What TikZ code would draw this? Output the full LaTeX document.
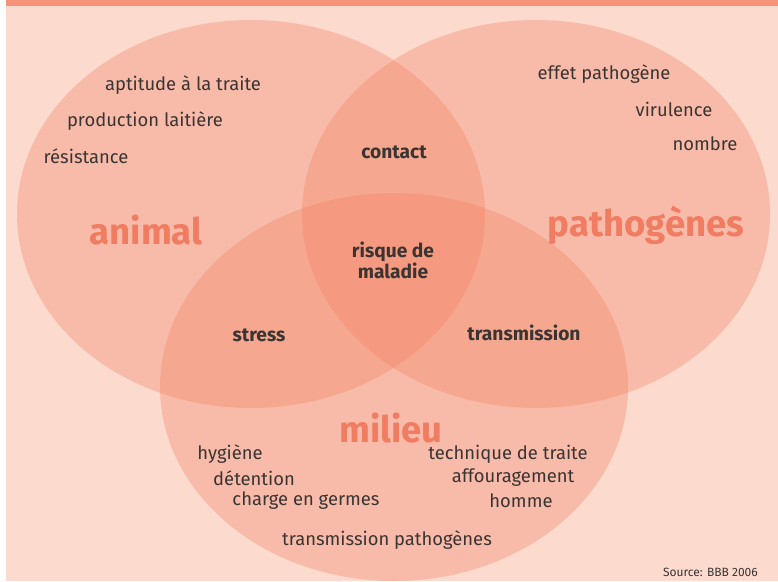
\documentclass[tikz,border=0pt]{standalone}
\usepackage{fontspec}
\setmainfont{Fira Sans}
\definecolor{bgc}{HTML}{FCDACE}
\definecolor{bandc}{HTML}{F5947A}
\definecolor{onec}{HTML}{F9BBA9}
\definecolor{twoc}{HTML}{F6A78F}
\definecolor{threec}{HTML}{F59A80}
\definecolor{bigc}{HTML}{F07C62}
\definecolor{txtc}{HTML}{3A3433}
\tikzset{
  item/.style={font=\fontsize{18.4}{20}\selectfont, text=txtc, inner sep=0pt},
  bolditem/.style={font=\fontsize{19.2}{21}\selectfont\bfseries, text=txtc, inner sep=0pt, align=center},
  biglabel/.style={font=\fontsize{36.5}{38}\selectfont\bfseries, text=bigc, inner sep=0pt},
  srcnote/.style={font=\fontsize{12}{14}\selectfont, text=txtc, inner sep=0pt, anchor=east},
}
\newcommand{\ellA}{(251,214) ellipse [x radius=234pt, y radius=194pt]}
\newcommand{\ellB}{(536,214) ellipse [x radius=234pt, y radius=194pt]}
\newcommand{\ellC}{(394,387) ellipse [x radius=234pt, y radius=194pt]}
\begin{document}
\begin{tikzpicture}[x=1pt,y=-1pt]
\useasboundingbox (0,0) rectangle (778,581);
\fill[white] (0,0) rectangle (778,581);
\fill[bgc] (6,6) rectangle (778,581);
\fill[bandc] (6,0) rectangle (778,6);
% single ellipses
\fill[onec] \ellA;
\fill[onec] \ellB;
\fill[onec] \ellC;
% pairwise overlaps
\begin{scope}
  \clip \ellA;
  \fill[twoc] \ellB;
  \fill[twoc] \ellC;
\end{scope}
\begin{scope}
  \clip \ellB;
  \fill[twoc] \ellC;
\end{scope}
% triple overlap
\begin{scope}
  \clip \ellA;
  \clip \ellB;
  \fill[threec] \ellC;
\end{scope}
% animal
\node[item] (apt) at (183,85) {aptitude à la traite};
\node[item] (prod) at (145,121) {production laitière};
\node[item] (res) at (86,156) {résistance};
\node[biglabel] (animal) at (146,230) {animal};
% pathogenes
\node[item] (eff) at (604,74) {effet pathogène};
\node[item] (vir) at (674,109) {virulence};
\node[item] (nom) at (705,144) {nombre};
\node[biglabel] (path) at (646,225) {pathogènes};
% overlaps
\node[bolditem] (contact) at (394,152) {contact};
\node[bolditem] (risque) at (393,260) {risque de\\maladie};
\node[bolditem] (stress) at (259,335) {stress};
\node[bolditem] (trans) at (524,333) {transmission};
% milieu
\node[biglabel] (milieu) at (391,428) {milieu};
\node[item] (hyg) at (230,454) {hygiène};
\node[item] (det) at (254,478) {détention};
\node[item] (charge) at (306,501) {charge en germes};
\node[item] (tech) at (508,454) {technique de traite};
\node[item] (aff) at (513,478) {affouragement};
\node[item] (hom) at (521,501) {homme};
\node[item] (tp) at (387,540) {transmission pathogènes};
\node[srcnote] (src) at (758,572) {Source: BBB 2006};
\end{tikzpicture}
\end{document}
